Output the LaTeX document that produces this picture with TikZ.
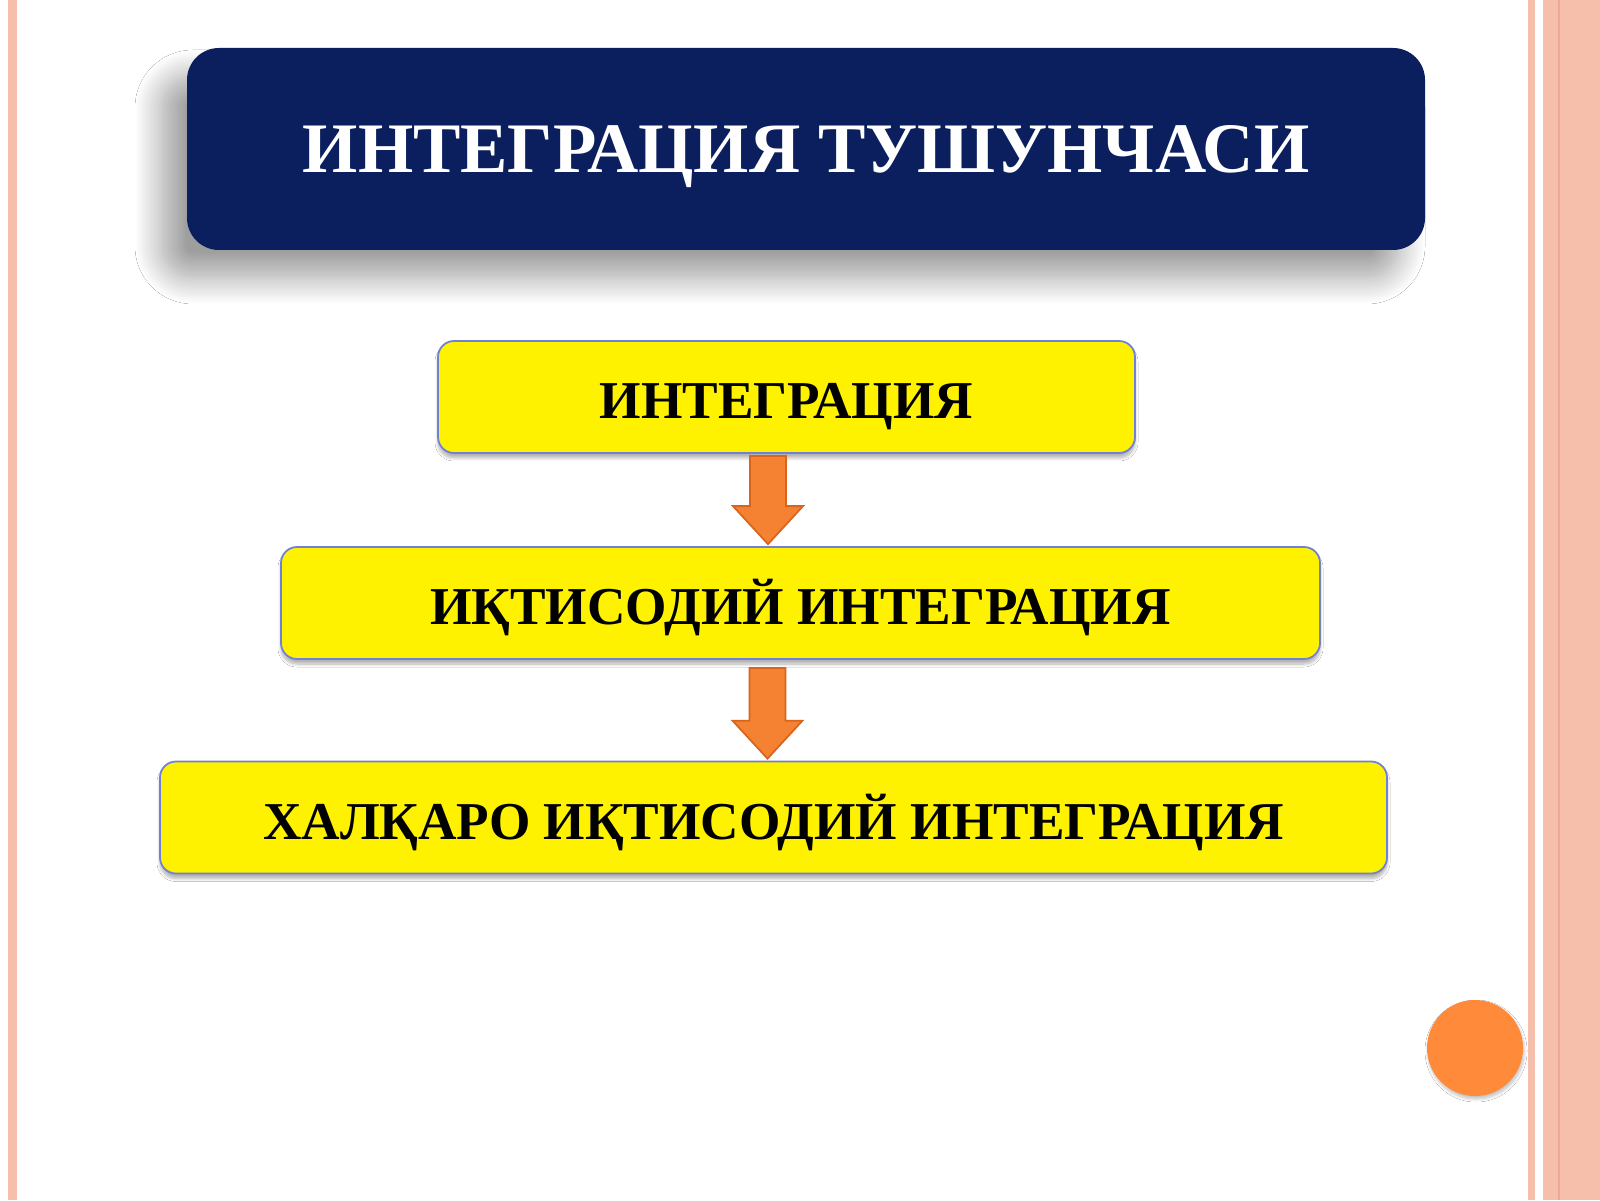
\documentclass[tikz,border=0pt]{standalone}
\usepackage{fontspec}
\setmainfont{Liberation Serif}
\usetikzlibrary{calc,shadows.blur}
\definecolor{navy}{HTML}{0B1F5E}
\definecolor{salmon}{HTML}{F5BFAB}
\definecolor{salmondark}{HTML}{E9A992}
\definecolor{boxline}{HTML}{7080D4}
\definecolor{arrowfill}{HTML}{F58233}
\definecolor{arrowline}{HTML}{D9651C}
\definecolor{dotfill}{HTML}{FF8A3A}
\tikzset{
	titlebox/.style={fill=navy, rounded corners=0.32cm, text=white, font=\bfseries\fontsize{20.2}{24}\selectfont,
		minimum width=12.38cm, minimum height=2.02cm, inner sep=0pt, text height=13.3pt, text depth=0pt,
		blur shadow={shadow xshift=-0.26cm, shadow yshift=-0.28cm, shadow blur radius=0.26cm,
			shadow blur steps=20, shadow opacity=38}},
	levelbox/.style={fill=yellow, draw=boxline, line width=0.5pt, rounded corners=0.16cm, text=black,
		font=\bfseries\fontsize{15.15}{18}\selectfont, minimum height=1.12cm, inner sep=0pt,
		text height=12.3pt, text depth=0pt,
		blur shadow={shadow xshift=0cm, shadow yshift=-0.05cm, shadow blur radius=0.03cm,
			shadow blur steps=8, shadow opacity=30}},
	blockarrow/.style={fill=arrowfill, draw=arrowline, line width=0.5pt, line join=miter}
}
% block arrow from top point (#2) down to tip (#3)
\def\blockarrow[#1](#2)(#3){\draw[#1] ($(#2)+(-0.18,0)$) -- ($(#3)+(-0.18,0.38)$) -- ($(#3)+(-0.35,0.38)$) -- (#3)
	-- ($(#3)+(0.35,0.38)$) -- ($(#3)+(0.18,0.38)$) -- ($(#2)+(0.18,0)$) -- cycle;}

\begin{document}
\begin{tikzpicture}
	%%%%% START %%%%%
	\useasboundingbox[fill=white] (0, 0) rectangle (16, 12);
	
	% side stripes
	\fill[salmon] (0.08, 0) rectangle (0.17, 12);
	\fill[salmon] (15.28, 0) rectangle (15.35, 12);
	\fill[salmon] (15.43, 0) rectangle (16, 12);
	\fill[salmondark] (15.58, 0) rectangle (15.60, 12);
	
	% title
	\node[titlebox] (title) at (8.06, 10.51) {ИНТЕГРАЦИЯ ТУШУНЧАСИ};
	
	% levels
	\node[levelbox, minimum width=6.97cm] (b1) at (7.865, 8.03) {ИНТЕГРАЦИЯ};
	\node[levelbox, minimum width=10.39cm] (b2) at (8.005, 5.97) {ИҚТИСОДИЙ ИНТЕГРАЦИЯ};
	\node[levelbox, minimum width=12.27cm] (b3) at (7.735, 3.825) {ХАЛҚАРО ИҚТИСОДИЙ ИНТЕГРАЦИЯ};
	
	% arrows
	\coordinate (a1top) at ($(b1.south)+(-0.185,-0.02)$);
	\coordinate (a1tip) at ($(a1top |- b2.north)+(0,0.02)$);
	\blockarrow[blockarrow](a1top)(a1tip)
	
	\coordinate (a2top) at ($(b2.south)+(-0.33,-0.08)$);
	\coordinate (a2tip) at ($(a2top |- b3.north)+(0,0.02)$);
	\blockarrow[blockarrow](a2top)(a2tip)
	
	% dot
	\fill[dotfill, blur shadow={shadow xshift=0.01cm, shadow yshift=-0.03cm, shadow blur radius=0.03cm,
		shadow blur steps=8, shadow opacity=25}] (14.75, 1.52) circle (0.48);
	%%%%% END %%%%%
\end{tikzpicture}
\end{document}
